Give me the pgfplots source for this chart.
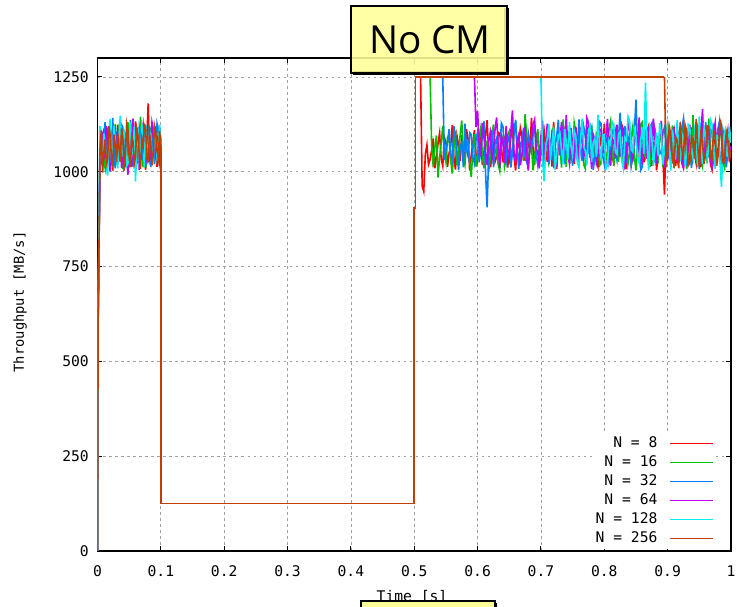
\documentclass[border=0pt]{standalone}
\usepackage{pgfplots}
\pgfplotsset{compat=1.18}
\usepackage{pgfplotstable}
\usepackage{fontspec}
\setmainfont{DejaVu Sans}
\setmonofont{DejaVu Sans Mono}
\newfontfamily\titlefont{Open Sans}
\definecolor{gpA}{HTML}{FF0000}
\definecolor{gpB}{HTML}{00C000}
\definecolor{gpC}{HTML}{0080FF}
\definecolor{gpD}{HTML}{C000FF}
\definecolor{gpE}{HTML}{00EEEE}
\definecolor{gpF}{HTML}{C04000}
\definecolor{boxyellow}{HTML}{FFFF99}
\definecolor{gridgray}{HTML}{A0A0A0}

\pgfplotstableread{
x n8 n16 n32 n64 n128 n256
0 0 0 0 0 0 0
0.001 615 630 605 625 640 600
0.004 1072 1041 1098 1013 1120 1062
0.006 1031 1103 1026 1082 1058 1109
0.008 1015 1088 1052 1106 1034 998
0.010 1104 1029 1090 1036 1101 1051
0.012 1093 1010 1131 1048 1077 1085
0.014 1027 1085 1049 1120 1012 1019
0.016 1040 1117 1024 1092 990 1033
0.018 1086 1051 1110 1027 1093 1120
0.020 1108 1036 1075 1001 1139 1097
0.022 1049 1099 1016 1085 1027 1036
0.024 1003 1079 1142 1064 1052 1018
0.026 1097 1014 1068 1111 1120 1098
0.028 1061 1125 1009 1118 1087 1071
0.030 1019 1067 1106 1042 1031 1025
0.032 1124 1022 1083 1037 1009 1102
0.034 1066 1110 1033 1099 1095 1060
0.036 1035 1094 1046 1127 1148 1026
0.038 1117 1040 1124 1010 1062 1114
0.040 1082 1007 1117 1055 1040 1090
0.042 1009 1092 1054 1108 1109 1003
0.044 1017 1068 1028 1083 1099 1044
0.046 1088 1019 1097 1040 1015 1127
0.048 1099 1131 1061 992 1021 1109
0.050 1038 1061 1011 1095 1086 1037
0.052 1046 1049 1136 1071 1130 1012
0.054 1126 1115 1075 1013 1044 1094
0.056 1071 1102 1015 1140 1056 1079
0.058 1012 1040 1108 1062 1118 1022
0.060 1133 1026 1089 1029 975 1038
0.062 1059 1097 1022 1117 1076 1113
0.064 1022 1083 1043 1096 1111 1095
0.066 1101 1030 1119 1005 1029 1041
0.068 1064 1145 1101 1051 1038 1008
0.070 1030 1070 1056 1102 1127 1086
0.072 1112 1012 1032 1124 1083 1066
0.074 1048 1101 1093 1060 1011 1123
0.076 1005 1077 1125 1019 1122 1115
0.078 1092 1024 1037 1113 1061 1034
0.080 1180 1038 1057 1088 1045 1029
0.082 1036 1118 1121 1032 1104 1101
0.084 1089 1109 1012 1049 1101 1081
0.086 1120 1055 1080 1130 1033 1017
0.088 1028 1052 1094 1113 1030 1047
0.090 1070 1097 1020 1063 1114 1120
0.092 1096 1120 1049 1036 1097 1102
0.094 1013 1039 1127 1092 1040 1055
0.096 1057 1033 1113 1078 1063 1035
0.098 1119 1102 1058 1025 1124 1108
0.100 1074 1086 1060 1045 1080 1068
}\tinit

\pgfplotstableread{
x n8 n16 n32 n64 n128 n256
0.510 1250 nan nan nan nan nan
0.5125 962 nan nan nan nan nan
0.515 948 nan nan nan nan nan
0.5175 1046 nan nan nan nan nan
0.520 1071 nan nan nan nan nan
0.5225 1019 nan nan nan nan nan
0.525 1032 1250 nan nan nan nan
0.5275 1057 1068 nan nan nan nan
0.530 1088 1012 nan nan nan nan
0.5325 1009 1063 nan nan nan nan
0.535 1041 1096 nan nan nan nan
0.5375 1075 985 nan nan nan nan
0.540 1102 1038 nan nan nan nan
0.5425 1034 1074 nan nan nan nan
0.545 1015 1121 1250 nan nan nan
0.5475 1091 1052 1031 nan nan nan
0.550 1077 1026 1058 nan nan nan
0.5525 1013 1090 1079 nan nan nan
0.555 1049 1083 1112 nan nan nan
0.5575 1068 1031 1047 nan nan nan
0.560 1123 995 1030 nan nan nan
0.5625 1037 1061 1120 nan nan nan
0.565 1006 1108 1091 nan nan nan
0.5675 1094 1017 1053 nan nan nan
0.570 1069 1047 1004 nan nan nan
0.5725 1028 1098 1066 nan nan nan
0.575 1097 1135 1076 nan nan nan
0.5775 1054 1040 1012 nan nan nan
0.580 1020 1018 1127 nan nan nan
0.5825 1112 1081 1060 nan nan nan
0.585 1085 1072 1041 nan nan nan
0.5875 1003 1026 1103 nan nan nan
0.590 1044 986 1098 nan nan nan
0.5925 1078 1057 1039 nan nan nan
0.595 1110 1099 1022 1250 nan nan
0.5975 1047 1014 1084 1118 nan nan
0.600 1028 1043 1105 1160 nan nan
0.6025 1061 1092 1025 1072 nan nan
0.605 1093 1116 1056 1040 nan nan
0.6075 1018 1048 1093 1129 nan nan
0.610 1051 1009 1133 1092 nan nan
0.6125 1097 1070 1001 1055 nan nan
0.615 1136 1080 906 1018 nan nan
0.6175 1042 1003 1044 1083 nan nan
0.620 1012 1037 1069 1104 nan nan
0.6225 1083 1094 1110 1031 nan nan
0.625 1074 1125 1012 1057 nan nan
0.6275 1026 1049 1075 1112 nan nan
0.630 1039 1058 1088 1143 nan nan
0.6325 1104 1019 1036 1068 nan nan
0.635 1101 1002 1046 1011 nan nan
0.6375 1058 1076 1128 1094 nan nan
0.640 1025 1091 1119 1078 nan nan
0.6425 1090 1012 1057 1023 nan nan
0.645 1082 1033 1029 1121 nan nan
0.6475 1011 1097 1086 1058 nan nan
0.650 1057 1107 1094 1035 nan nan
0.6525 1092 1051 1011 1106 nan nan
0.655 1118 1045 1051 1162 nan nan
0.6575 1040 1123 1099 1049 nan nan
0.660 1003 1129 1137 1026 nan nan
0.6625 1075 1060 1061 1082 nan nan
0.665 1066 1020 1008 1099 nan nan
0.6675 1115 1066 1072 1017 nan nan
0.670 1094 1084 1082 1047 nan nan
0.6725 1032 1029 1116 1101 nan nan
0.675 1031 1152 1040 1115 nan nan
0.6775 1087 1090 1026 1041 nan nan
0.680 1079 1011 1103 1003 nan nan
0.6825 1049 1057 1079 1070 nan nan
0.685 1142 1069 1060 1086 nan nan
0.6875 1061 1004 1097 1125 nan nan
0.690 1018 1036 1126 1138 nan nan
0.6925 1098 1078 1045 1060 nan nan
0.695 1087 1113 1017 1052 nan nan
0.6975 1023 1040 1058 1009 nan nan
0.700 1045 1055 1079 1094 1250 nan
0.7025 1081 1096 1111 1135 1030 nan
0.705 1108 998 1034 1029 975 nan
0.7075 1059 1061 1070 1076 1069 nan
0.710 1026 1093 1114 1127 1088 nan
0.7125 1095 1024 1020 1043 1126 nan
0.715 1070 1042 1062 1060 1031 nan
0.7175 1014 1109 1100 1099 1073 nan
0.720 1131 1117 1009 1108 1117 nan
0.7225 1062 1052 1067 1054 1005 nan
0.725 1008 1026 1096 1014 1049 nan
0.7275 1093 1084 1137 1088 1094 nan
0.730 1083 1075 1043 1083 1102 nan
0.7325 1030 1011 1081 1131 1058 nan
0.735 1047 1138 1121 1037 1020 nan
0.7375 1110 1065 1034 1072 1113 nan
0.740 1099 1013 1055 1149 1079 nan
0.7425 1052 1101 1092 1046 1032 nan
0.745 1036 1089 1101 1021 1131 nan
0.7475 1087 1031 1049 1115 1067 nan
0.750 1062 1044 1016 1072 1043 nan
0.7525 1020 1129 1105 1026 1108 nan
0.755 1115 1106 1085 1119 1094 nan
0.7575 1071 1047 1031 1081 1024 nan
0.760 1021 1032 1138 1034 1012 nan
0.7625 1102 1083 1064 1107 1085 nan
0.765 1078 1127 1028 1091 1140 nan
0.7675 1044 1019 1119 1038 1066 nan
0.770 1050 1008 1097 1057 1055 nan
0.7725 1117 1094 1046 1142 1018 nan
0.775 1104 1066 1051 1130 1109 nan
0.7775 1039 1037 1094 1063 1121 nan
0.780 1033 1122 1114 1008 1026 nan
0.7825 1081 1075 1005 1098 1077 nan
0.785 1087 1039 1036 1085 1087 nan
0.7875 1027 1103 1088 1024 1039 nan
0.790 1013 1098 1080 1044 1150 nan
0.7925 1098 1016 1132 1110 1062 nan
0.795 1069 1022 1127 1112 1038 nan
0.7975 1055 1088 1042 1053 1096 nan
0.800 1126 1081 1019 1051 1098 nan
0.8025 1012 1033 1077 1094 1007 nan
0.805 1041 1049 1092 1139 1017 nan
0.8075 1089 1113 1024 1061 1083 nan
0.810 1095 1134 1048 1016 1073 nan
0.8125 1037 1062 1111 1087 1132 nan
0.815 1024 1015 1109 1080 1125 nan
0.8175 1106 1094 1056 1035 1051 nan
0.820 1080 1071 1031 1124 1046 nan
0.8225 1046 1026 1090 1077 1101 nan
0.825 1052 1110 1156 1039 1106 nan
0.8275 1124 1057 1038 1117 1029 nan
0.830 1112 1027 1064 1095 1009 nan
0.8325 1063 1100 1121 1006 1090 nan
0.835 1007 1088 1023 1050 1083 nan
0.8375 1085 1022 1081 1129 1145 nan
0.840 1073 1046 1099 1113 1134 nan
0.8425 1019 1092 1015 1060 1058 nan
0.845 1038 1119 1041 1027 1052 nan
0.8475 1097 1039 1108 1102 1112 nan
0.850 1101 1004 1190 1093 1095 nan
0.8525 1035 1081 1053 1048 1036 nan
0.855 1029 1077 1072 1143 1023 nan
0.8575 1091 1125 1004 1071 1084 nan
0.860 1084 1131 1013 1019 1117 nan
0.8625 1025 1050 1097 1111 1047 nan
0.865 1059 1037 1106 1078 1235 nan
0.8675 1108 1106 1061 1034 1068 nan
0.870 1121 1092 1045 1120 1004 nan
0.8725 1050 1013 1119 1083 1122 nan
0.875 1016 1054 1128 1036 1090 nan
0.8775 1077 1128 1032 1140 1015 nan
0.880 1075 1113 1027 1087 1061 nan
0.8825 1004 1041 1095 1021 1103 nan
0.885 1043 1030 1086 1055 1042 nan
0.8875 1096 1101 1048 1097 1129 nan
0.890 1106 1085 1049 1134 1101 nan
0.8925 1039 1016 1102 1042 1019 nan
0.895 940 1021 1117 1012 1058 1250
0.8975 1088 1090 1066 1085 1093 1012
0.900 1062 1128 1033 1099 1122 1045
0.9025 1118 1035 1097 1038 1064 1119
0.905 1030 1064 1081 1047 1003 1096
0.9075 1072 1122 1025 1107 1111 1030
0.910 1097 1010 1022 1116 1078 1018
0.9125 1015 1069 1089 1054 1032 1092
0.915 1048 1102 1110 1031 1136 1083
0.9175 1101 1028 1037 1096 1059 1009
0.920 1119 1043 1058 1090 1027 1131
0.9225 1057 1096 1116 1022 1101 1057
0.925 1011 1125 1140 1009 1092 1042
0.9275 1079 1051 1049 1118 1017 1124
0.930 1086 1007 1015 1075 1049 1107
0.9325 1025 1088 1083 1061 1124 1016
0.935 1035 1081 1093 1124 1115 1024
0.9375 1114 1019 1010 1041 1055 1093
0.940 1109 1149 1046 1040 1036 1088
0.9425 1046 1062 1104 1109 1108 1035
0.945 1022 1036 1120 1101 1084 1139
0.9475 1093 1115 1053 1019 1012 1066
0.950 1068 1094 1007 1026 1146 1013
0.9525 1012 1041 1128 1093 1071 1102
0.955 1133 1017 1075 1165 1021 1079
0.9575 1065 1103 1021 1057 1116 1021
0.960 1044 1079 1131 1043 1097 1054
0.9625 1103 1022 1067 1121 1034 1121
0.965 1091 1140 1038 1088 1062 1118
0.9675 1020 1057 1114 1029 1137 1040
0.970 1006 1026 1103 1014 1125 1031
0.9725 1088 1119 1032 1103 1063 1109
0.975 1077 1105 1061 1129 1008 1097
0.9775 1035 1037 1097 1048 1094 1016
0.980 1050 1048 1118 1052 1089 1048
0.9825 1121 1096 1043 1137 1028 1134
0.985 1114 1120 1026 1097 960 1112
0.9875 1041 1033 1107 1018 1082 1025
0.990 1033 1011 1083 1033 1104 1029
0.9925 1096 1092 1012 1086 1045 1106
0.995 1098 1087 1049 1110 1041 1085
0.9975 1027 1044 1093 1042 1119 1037
1.000 1060 1052 1101 1068 1076 1055
}\tlate

\newcommand{\tickfont}{\ttfamily\fontsize{11bp}{13bp}\selectfont}

\begin{document}
\begin{tikzpicture}
\path[use as bounding box] (-73.125bp,-42bp) rectangle (481.125bp,413.25bp);
\begin{axis}[
  scale only axis, width=475.125bp, height=369.75bp,
  xmin=0, xmax=1, ymin=0, ymax=1300,
  xtick={0,0.1,0.2,0.3,0.4,0.5,0.6,0.7,0.8,0.9,1},
  xticklabels={0,0.1,0.2,0.3,0.4,0.5,0.6,0.7,0.8,0.9,1},
  ytick={0,250,500,750,1000,1250},
  yticklabels={0,250,500,750,1000,1250},
  grid=major,
  grid style={gridgray, dash pattern=on 2bp off 2.5bp, line width=0.6bp},
  axis line style={black, line width=0.9bp},
  tick style={black, line width=0.75bp},
  major tick length=3.75bp, tick align=inside,
  ticklabel style={font=\tickfont},
  /pgf/number format/assume math mode=true,
  xticklabel style={yshift=-7.5bp},
  yticklabel style={xshift=-3bp},
  unbounded coords=jump,
  no markers,
  every axis plot/.append style={line width=1.2bp},
  legend style={draw=none, fill=white, font=\tickfont,
    at={(rel axis cs:0.975,0.004)}, anchor=south east,
    row sep=0.6bp, column sep=7bp, inner sep=1bp, cells={anchor=east}},
  legend plot pos=right,
  legend cell align=right,
  legend image code/.code={\draw[#1, line width=1.1bp] (0bp,0bp) -- (32bp,0bp);},
]
\addplot[gpA] table[y=n8] {\tinit}; \addlegendentry{N = 8}
\addplot[gpA, forget plot] coordinates {(0.1,1074)(0.1,125)(0.5,125)(0.5,905)(0.502,905)(0.502,1250)(0.510,1250)};
\addplot[gpA, forget plot] table[y=n8] {\tlate};

\addplot[gpB] table[y=n16] {\tinit}; \addlegendentry{N = 16}
\addplot[gpB, forget plot] coordinates {(0.1,1086)(0.1,125)(0.5,125)(0.5,905)(0.502,905)(0.502,1250)(0.525,1250)};
\addplot[gpB, forget plot] table[y=n16] {\tlate};

\addplot[gpC] table[y=n32] {\tinit}; \addlegendentry{N = 32}
\addplot[gpC, forget plot] coordinates {(0.1,1060)(0.1,125)(0.5,125)(0.5,905)(0.502,905)(0.502,1250)(0.545,1250)};
\addplot[gpC, forget plot] table[y=n32] {\tlate};

\addplot[gpD] table[y=n64] {\tinit}; \addlegendentry{N = 64}
\addplot[gpD, forget plot] coordinates {(0.1,1045)(0.1,125)(0.5,125)(0.5,905)(0.502,905)(0.502,1250)(0.595,1250)};
\addplot[gpD, forget plot] table[y=n64] {\tlate};

\addplot[gpE] table[y=n128] {\tinit}; \addlegendentry{N = 128}
\addplot[gpE, forget plot] coordinates {(0.1,1080)(0.1,125)(0.5,125)(0.5,905)(0.502,905)(0.502,1250)(0.700,1250)};
\addplot[gpE, forget plot] table[y=n128] {\tlate};

\addplot[gpF] table[y=n256] {\tinit}; \addlegendentry{N = 256}
\addplot[gpF, forget plot] coordinates {(0.1,1068)(0.1,125)(0.5,125)(0.5,905)(0.502,905)(0.502,1250)(0.895,1250)};
\addplot[gpF, forget plot] table[y=n256] {\tlate};
\end{axis}

% y label
\node[rotate=90, font=\ttfamily\fontsize{10.3bp}{12bp}\selectfont] at (-58.1bp,186.75bp) {Throughput [MB/s]};
% x label and its box
\node[font=\tickfont] at (235.875bp,-34.5bp) {Time [s]};
\fill[black] (199.1bp,-45bp) rectangle (299.6bp,-39bp);
\filldraw[fill=boxyellow, draw=black, line width=1.5bp] (197.6bp,-46bp) rectangle (298.1bp,-37.5bp);
% title box with shadow
\fill[black] (305bp,357bp) rectangle (308.625bp,407.25bp);
\fill[black] (191.625bp,357bp) rectangle (308.625bp,360bp);
\filldraw[fill=boxyellow, fill opacity=0.88, draw=black, line width=1.5bp] (190.125bp,358.5bp) rectangle (307.125bp,408.75bp);
\node[font=\titlefont\fontsize{29bp}{33bp}\selectfont] at (249.375bp,383.25bp) {No CM};
\end{tikzpicture}
\end{document}
